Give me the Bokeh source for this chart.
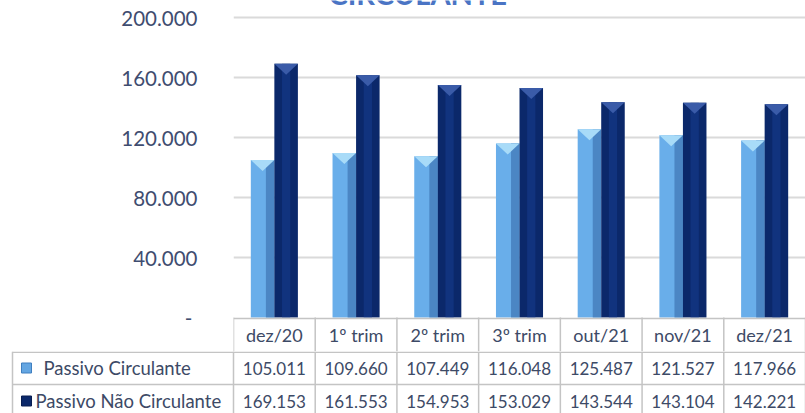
from bokeh.plotting import figure
from bokeh.layouts import column
from bokeh.models import Range1d, FixedTicker
from bokeh.core.properties import value
from bokeh.embed import file_html
from bokeh.resources import INLINE

# ---------------- data ----------------
title_fragment = "CIRCULANTE"
categories = ["dez/20", "1º trim", "2º trim", "3º trim", "out/21", "nov/21", "dez/21"]
passivo_circulante = [105011, 109660, 107449, 116048, 125487, 121527, 117966]
passivo_nao_circulante = [169153, 161553, 154953, 153029, 143544, 143104, 142221]
series_names = ["Passivo Circulante", "Passivo Não Circulante"]
y_ticks = [0, 40000, 80000, 120000, 160000, 200000]

# ---------------- layout constants (px) ----------------
W = 805
H = 413
LEFT = 233
ZERO_Y = 317
HEADER_H = 34
ROW_H = 33
TOP_H = ZERO_Y + HEADER_H
BOT_H = H - TOP_H
n = len(categories)
col_px = (W - LEFT) / n
S = 40000 / 60.0          # data units per px (vertical)
BW = 0.288                # bar width (category units)
TRI_PX = 11

FONT = value("Lato")
TXT = "#3d4a66"
GRID = "#dadada"
BORDER = "#c4c4c4"
LIGHT, LIGHT_SH, LIGHT_TRI = "#69aeea", "#4b86c4", "#a8dbf8"
DARK, DARK_SH, DARK_TRI = "#0b286a", "#163b8c", "#3a5ba8"


def fmt(v):
    return f"{v:,}".replace(",", ".")


# ---------------- chart ----------------
p = figure(width=W, height=TOP_H, x_range=Range1d(0, n),
           y_range=Range1d(-HEADER_H * S, ZERO_Y * S),
           x_axis_location=None, output_backend="svg", toolbar_location=None,
           min_border_left=LEFT, min_border_right=0, min_border_top=0, min_border_bottom=0)
p.frame_align = False
p.outline_line_color = None
p.xgrid.visible = False
p.ygrid.ticker = FixedTicker(ticks=y_ticks[1:])
p.ygrid.grid_line_color = GRID
p.ygrid.grid_line_width = 2

ax = p.yaxis[0]
ax.ticker = FixedTicker(ticks=y_ticks)
ax.major_label_overrides = {t: (fmt(t) if t else "-\u00a0") for t in y_ticks}
ax.axis_line_color = None
ax.major_tick_line_color = None
ax.minor_tick_line_color = None
ax.major_label_text_font = "Lato"
ax.major_label_text_font_size = "20.5px"
ax.major_label_text_color = "#3f4d70"
ax.major_label_standoff = 30

# title, mostly above the visible area (as in the reference)
p.text(x=[(328 - LEFT) / col_px], y=[(ZERO_Y + 7) * S], text=[title_fragment],
       text_font=FONT, text_font_style="bold", text_font_size="29px",
       text_color="#4a74c4", text_baseline="alphabetic")

xc = [i + 0.5 for i in range(n)]
lx = [c - BW / 2 for c in xc]
dx = [c + BW / 2 for c in xc]

# light bars
p.vbar(x=lx, top=passivo_circulante, bottom=0, width=BW, fill_color=LIGHT, line_color=None)
p.vbar(x=[x + BW * 0.32 for x in lx], top=passivo_circulante, bottom=0, width=BW * 0.36,
       fill_color=LIGHT_SH, line_color=None)
p.patches(xs=[[x - BW / 2, x + BW / 2, x] for x in lx],
          ys=[[v, v, v - TRI_PX * S] for v in passivo_circulante],
          fill_color=LIGHT_TRI, line_color=None)
# dark bars
p.vbar(x=dx, top=passivo_nao_circulante, bottom=0, width=BW, fill_color=DARK, line_color=None)
p.vbar(x=dx, top=passivo_nao_circulante, bottom=0, width=BW * 0.35, fill_color=DARK_SH,
       line_color=None, fill_alpha=0.6)
p.patches(xs=[[x - BW / 2, x + BW / 2, x] for x in dx],
          ys=[[v, v, v - TRI_PX * S] for v in passivo_nao_circulante],
          fill_color=DARK_TRI, line_color=None)

# header row of the table
p.segment(x0=[0], y0=[-1 * S], x1=[n], y1=[-1 * S], line_color=BORDER, line_width=1.5)
p.segment(x0=list(range(n + 1)), y0=[0] * (n + 1), x1=list(range(n + 1)),
          y1=[-HEADER_H * S] * (n + 1), line_color=BORDER, line_width=1.5)
p.text(x=xc, y=[-HEADER_H * S / 2] * n, text=categories, text_font=FONT,
       text_font_size="18px", text_color=TXT, text_align="center", text_baseline="middle")

# ---------------- table rows ----------------
x_left = -LEFT / col_px
b = figure(width=W, height=BOT_H, x_range=Range1d(x_left, n),
           y_range=Range1d(BOT_H / ROW_H, 0),
           x_axis_location=None, y_axis_location=None,
           output_backend="svg", toolbar_location=None, min_border=0)
b.frame_align = False
b.outline_line_color = None
b.grid.visible = False

tbl_left = x_left + 12 / col_px
b.segment(x0=[tbl_left] * 3, y0=[0.7 / ROW_H, 1, 2], x1=[n] * 3, y1=[0.7 / ROW_H, 1, 2],
          line_color=BORDER, line_width=1.5)
vx = [tbl_left] + list(range(n + 1))
b.segment(x0=vx, y0=[0] * len(vx), x1=vx, y1=[2] * len(vx), line_color=BORDER, line_width=1.5)

mx = x_left + 26 / col_px
b.scatter(x=[mx, mx], y=[0.5, 1.5], marker="square", size=10,
          fill_color=["#64a6e2", DARK], line_color=["#3f7fc0", "#081d50"])
b.text(x=[x_left + 43 / col_px, x_left + 35 / col_px], y=[0.5, 1.5], text=series_names,
       text_font=FONT, text_font_size="18.5px", text_color=TXT, text_baseline="middle")

for r, vals in enumerate([passivo_circulante, passivo_nao_circulante]):
    b.text(x=xc, y=[r + 0.5] * n, text=[fmt(v) for v in vals], text_font=FONT,
           text_font_size="17px", text_color=TXT, text_align="center", text_baseline="middle")

layout = column(p, b, spacing=0)
open("out.html", "w").write(file_html(layout, INLINE))
